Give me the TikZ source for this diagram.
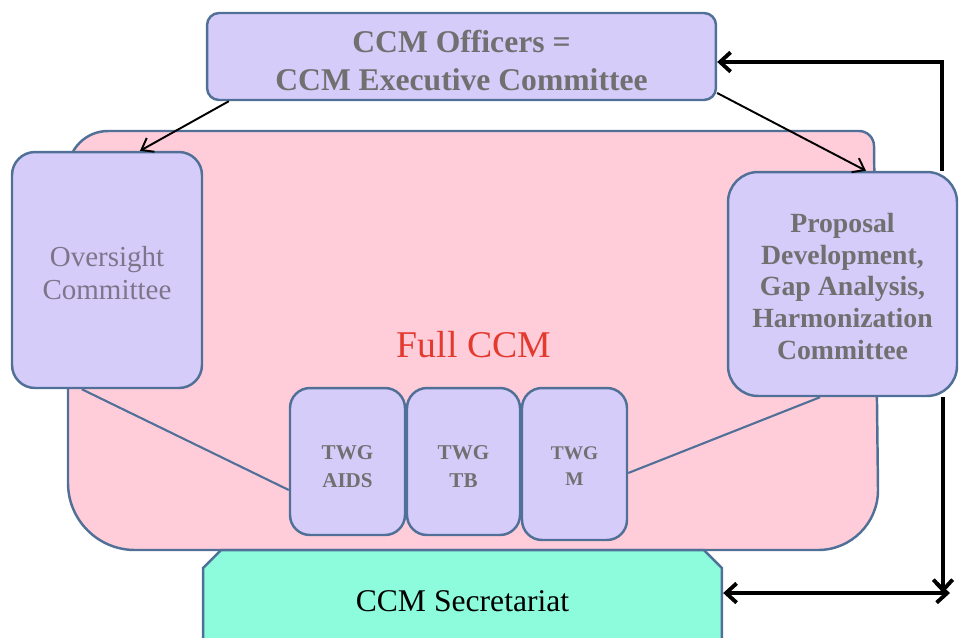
\documentclass[tikz,border=0pt]{standalone}
\usepackage{fontspec}
\setmainfont{Liberation Serif}
\usetikzlibrary{arrows.meta,shapes.misc}
\definecolor{lav}{RGB}{214,204,250}
\definecolor{edgeblue}{RGB}{80,112,152}
\definecolor{pinkfill}{RGB}{255,205,218}
\definecolor{aqua}{RGB}{140,252,220}
\definecolor{fullred}{RGB}{228,58,46}
\definecolor{txtgrey}{RGB}{112,112,112}
\definecolor{softgrey}{RGB}{125,118,138}
\newcommand{\toppad}[1]{\rule{0pt}{#1}}
\tikzset{
	lavbox/.style={draw=edgeblue, line width=1.4pt, fill=lav, align=center, text=txtgrey, inner sep=2pt},
	twgbox/.style={lavbox, rounded corners=0.4cm, minimum height=2.94cm, font=\bfseries\fontsize{12}{16}\selectfont},
	blueline/.style={draw=edgeblue, line width=1.2pt},
	thinarrow/.style={black, line width=1.1pt, -{Straight Barb[length=6pt,width=9pt]}},
	thickarrow/.style={black, line width=2.2pt, -{Straight Barb[length=6pt,width=11pt]}},
}

\begin{document}
\begin{tikzpicture}[x=0.02cm, y=-0.02cm]
	\clip (0,0) rectangle (959,637);
	\fill[white] (0,0) rectangle (959,637);
	\draw[edgeblue, line width=1.4pt, fill=pinkfill] (68,171) arc (180:270:40) -- (859,131) arc (270:360:15) -- (878,490) arc (0:90:60) -- (135,550) arc (90:180:67) -- cycle;
	\node[text=fullred, font=\fontsize{21.5}{24}\selectfont] (full) at (474,345) {Full CCM};
	\node[lavbox, rounded corners=0.24cm, minimum width=10.18cm, minimum height=1.74cm, font=\bfseries\fontsize{18}{21.5}\selectfont] (officers) at (461.5,56.5) {\toppad{17pt}CCM Officers =\\CCM Executive Committee};
	\node[lavbox, rounded corners=0.46cm, minimum width=3.8cm, minimum height=4.72cm, text=softgrey, font=\fontsize{16.5}{18.7}\selectfont] (oversight) at (107,270) {\toppad{14.8pt}Oversight\\Committee};
	\node[lavbox, rounded corners=0.6cm, minimum width=4.58cm, minimum height=4.48cm, font=\bfseries\fontsize{15.8}{18.1}\selectfont] (proposal) at (842.5,284) {\toppad{13.7pt}Proposal\\Development,\\Gap Analysis,\\Harmonization\\Committee};
	\node[twgbox, minimum width=2.3cm] (aids) at (347.5,461.5) {\toppad{13.5pt}TWG\\AIDS};
	\node[twgbox, minimum width=2.26cm] (tb) at (463.5,461.5) {\toppad{13.5pt}TWG\\TB};
	\node[twgbox, minimum width=2.1cm, minimum height=3.04cm, font=\bfseries\fontsize{11}{15}\selectfont] (twgm) at (574.5,464) {\toppad{9.6pt}TWG\\M};
	\node[chamfered rectangle, chamfered rectangle corners={north west,north east}, chamfered rectangle xsep=0.18cm, chamfered rectangle ysep=0.18cm, draw=edgeblue, line width=1.4pt, fill=aqua, minimum width=10.38cm, minimum height=2.04cm, font=\fontsize{18}{21}\selectfont] (secretariat) at (462.5,601) {CCM Secretariat};
	\draw[blueline] ([xshift=1.42cm]oversight.south west) -- ([yshift=-0.57cm]aids.west);
	\draw[blueline] ([yshift=-0.18cm]twgm.east) -- ([xshift=-0.45cm]proposal.south);
	\draw[thinarrow] ([xshift=0.46cm]officers.south west) -- ([xshift=0.66cm]oversight.north);
	\draw[thinarrow] ([yshift=-0.73cm]officers.east) -- ([xshift=0.47cm]proposal.north);
	\draw[thickarrow] ([xshift=1.99cm]proposal.north) |- ([yshift=-0.11cm]officers.east);
	\coordinate (corner) at (950,593);
	\draw[thickarrow] ([xshift=2.01cm]proposal.south) -- ([xshift=2.01cm]proposal.south |- corner);
	\draw[thickarrow, {Straight Barb[length=6pt,width=11pt]}-{Straight Barb[length=6pt,width=11pt]}] ([yshift=0.16cm]secretariat.east) -- (corner);
\end{tikzpicture}
\end{document}
